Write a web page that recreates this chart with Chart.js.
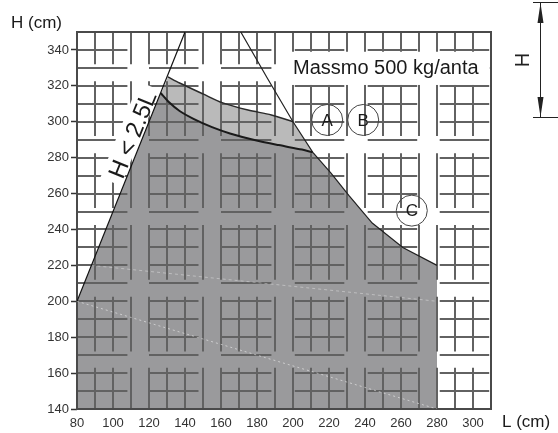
<!DOCTYPE html>
<html>
<head>
<meta charset="utf-8">
<script src="https://cdn.jsdelivr.net/npm/chart.js@4"></script>
<style>
  html, body { margin: 0; padding: 0; background: #fff; }
  #wrap { width: 558px; height: 433px; position: relative; }
</style>
</head>
<body>
<div id="wrap"><canvas id="chart"></canvas></div>
<script>
// axis ticks
const xTicks = [80, 100, 120, 140, 160, 180, 200, 220, 240, 260, 280, 300];
const yTicks = [140, 160, 180, 200, 220, 240, 260, 280, 300, 320, 340];

// outer (light) region: left edge, top curve, right slope, bottom
const outerL = [80, 80, 130.5, 137, 150, 161, 175, 188, 200, 211, 221, 231, 244, 261, 280, 280];
const outerH = [140, 200, 325, 321.6, 315.5, 310.5, 306.5, 303.8, 300, 283, 271.5, 259, 243.6, 230, 220, 140];

// inner (dark) region, bounded above by the lower curve
const innerL = [80, 80, 126.5, 131, 137, 145, 155, 165, 178, 192, 205, 211, 221, 231, 244, 261, 280, 280];
const innerH = [140, 200, 316, 311, 306, 301.5, 297, 293.5, 290, 287, 284.5, 283, 271.5, 259, 243.6, 230, 220, 140];

// thin limit line on the right side
const limitL = [171, 185.6, 200, 211, 221, 231, 244, 261, 280];
const limitH = [350, 324.5, 300, 283, 271.5, 259, 243.6, 230, 220];

// H < 2.5L line
const ratioL = [80, 140];
const ratioH = [200, 350];

// faint white traces inside the grey area
const traceAL = [80, 280];
const traceAH = [200, 140];
const traceBL = [88, 280];
const traceBH = [220, 200];

// circled labels
const markNames = ['A', 'B', 'C'];
const markL = [219, 239, 266];
const markH = [301, 301, 250.5];

// grille background: horizontal bars run inside these L spans,
// vertical bars inside these H spans (one bar every 10 cm)
const barSpansL = [[80, 108], [120, 147.5], [160, 188], [201, 228.5], [241.5, 269], [281.5, 309]];
const barSpansH = [[132, 163], [172, 202.5], [212, 242.5], [252, 282.5], [292, 322.5], [332, 362]];

function pts(ls, hs) {
  return ls.map((l, i) => ({ x: l, y: hs[i] }));
}

const upperCurve = pts(outerL.slice(2, 9), outerH.slice(2, 9));
const lowerCurve = pts(innerL.slice(2, 12), innerH.slice(2, 12));

const FONT = "'Liberation Sans', Arial, sans-serif";
const NOTE = 'Massmo 500 kg/anta';
const RATIO = 'H < 2.5L';

const grille = {
  id: 'grille',
  beforeDatasetsDraw(chart) {
    const ctx = chart.ctx;
    const xs = chart.scales.x, ys = chart.scales.y;
    const a = chart.chartArea;
    ctx.save();
    ctx.beginPath();
    ctx.rect(a.left, a.top, a.right - a.left, a.bottom - a.top);
    ctx.clip();
    ctx.strokeStyle = '#626262';
    ctx.lineWidth = 2;
    ctx.beginPath();
    for (let h = 140; h <= 350; h += 10) {
      const y = Math.round(ys.getPixelForValue(h));
      barSpansL.forEach(s => {
        ctx.moveTo(xs.getPixelForValue(s[0]), y);
        ctx.lineTo(xs.getPixelForValue(s[1]), y);
      });
    }
    for (let l = 80; l <= 310; l += 10) {
      const x = Math.round(xs.getPixelForValue(l));
      barSpansH.forEach(s => {
        ctx.moveTo(x, ys.getPixelForValue(s[0]));
        ctx.lineTo(x, ys.getPixelForValue(s[1]));
      });
    }
    ctx.stroke();

    // clear space behind the note
    ctx.fillStyle = '#fff';
    const nx = xs.getPixelForValue(199);
    ctx.fillRect(nx, ys.getPixelForValue(339) , a.right - 2 - nx,
      ys.getPixelForValue(320.5) - ys.getPixelForValue(339));

    // clear space behind the rotated ratio text
    ctx.save();
    ctx.translate(xs.getPixelForValue(111.5), ys.getPixelForValue(292.5));
    ctx.rotate(-68 * Math.PI / 180);
    ctx.font = '24px ' + FONT;
    const w = ctx.measureText(RATIO).width;
    ctx.fillRect(-w / 2 - 6, -15, w + 12, 22);
    ctx.restore();
    ctx.restore();

    // frame
    ctx.save();
    ctx.strokeStyle = '#4a4a4a';
    ctx.lineWidth = 2;
    ctx.strokeRect(a.left, a.top, a.right - a.left, a.bottom - a.top);
    ctx.restore();
  }
};

const extras = {
  id: 'extras',
  afterDraw(chart) {
    const ctx = chart.ctx;
    const xs = chart.scales.x, ys = chart.scales.y;
    ctx.save();
    ctx.fillStyle = '#1a1a1a';
    ctx.textBaseline = 'middle';

    // axis titles
    ctx.font = '17px ' + FONT;
    ctx.textAlign = 'left';
    ctx.fillText('H (cm)', 11, 23);
    ctx.fillText('L (cm)', 502, 422);

    // note
    ctx.font = '20px ' + FONT;
    ctx.fillText(NOTE, xs.getPixelForValue(200), ys.getPixelForValue(330) + 1);

    // circle letters
    ctx.font = '17px ' + FONT;
    ctx.textAlign = 'center';
    markNames.forEach((n, i) => {
      ctx.fillText(n, xs.getPixelForValue(markL[i]), ys.getPixelForValue(markH[i]) + 1);
    });

    // rotated H < 2.5L
    ctx.save();
    ctx.translate(xs.getPixelForValue(111.5), ys.getPixelForValue(292.5));
    ctx.rotate(-68 * Math.PI / 180);
    ctx.font = '24px ' + FONT;
    ctx.fillText(RATIO, 0, 0);
    ctx.restore();

    // H dimension at top right
    ctx.strokeStyle = '#222';
    ctx.lineWidth = 1;
    ctx.beginPath();
    ctx.moveTo(533, 2.5); ctx.lineTo(558, 2.5);
    ctx.moveTo(533, 117.5); ctx.lineTo(558, 117.5);
    ctx.moveTo(540.5, 3); ctx.lineTo(540.5, 117);
    ctx.stroke();
    ctx.fillStyle = '#222';
    ctx.beginPath();
    ctx.moveTo(540.5, 3); ctx.lineTo(537.5, 23); ctx.lineTo(543.5, 23); ctx.closePath();
    ctx.moveTo(540.5, 117); ctx.lineTo(537.5, 97); ctx.lineTo(543.5, 97); ctx.closePath();
    ctx.fill();
    ctx.save();
    ctx.translate(523, 60);
    ctx.rotate(-Math.PI / 2);
    ctx.font = '20px ' + FONT;
    ctx.textAlign = 'center';
    ctx.fillText('H', 0, 0);
    ctx.restore();

    ctx.restore();
  }
};

new Chart(document.getElementById('chart'), {
  type: 'scatter',
  data: {
    datasets: [
      {
        // circles
        data: pts(markL, markH),
        showLine: false,
        pointRadius: 15.5,
        pointHoverRadius: 15.5,
        pointBackgroundColor: 'rgba(255,255,255,0)',
        pointBorderColor: '#444',
        pointBorderWidth: 1
      },
      {
        data: pts(ratioL, ratioH),
        showLine: true,
        borderColor: '#111',
        borderWidth: 1.2,
        pointRadius: 0
      },
      {
        data: pts(limitL, limitH),
        showLine: true,
        borderColor: '#222',
        borderWidth: 1.2,
        pointRadius: 0
      },
      {
        data: lowerCurve,
        showLine: true,
        borderColor: '#1a1a1a',
        borderWidth: 2,
        tension: 0.3,
        pointRadius: 0
      },
      {
        data: upperCurve,
        showLine: true,
        borderColor: '#2a2a2a',
        borderWidth: 1.5,
        tension: 0.3,
        pointRadius: 0
      },
      {
        data: pts(traceAL, traceAH),
        showLine: true,
        borderColor: 'rgba(255,255,255,0.5)',
        borderWidth: 1,
        borderDash: [2, 3],
        pointRadius: 0
      },
      {
        data: pts(traceBL, traceBH),
        showLine: true,
        borderColor: 'rgba(255,255,255,0.35)',
        borderWidth: 1,
        borderDash: [3, 3],
        pointRadius: 0
      },
      {
        // dark part
        data: pts(innerL, innerH),
        showLine: true,
        borderWidth: 0,
        borderColor: 'rgba(0,0,0,0)',
        backgroundColor: '#9a9a9c',
        fill: 'shape',
        pointRadius: 0
      },
      {
        // light part
        data: pts(outerL, outerH),
        showLine: true,
        borderWidth: 0,
        borderColor: 'rgba(0,0,0,0)',
        backgroundColor: '#bababa',
        fill: 'shape',
        pointRadius: 0
      }
    ]
  },
  options: {
    responsive: true,
    maintainAspectRatio: false,
    animation: false,
    events: [],
    layout: { padding: { left: 0, top: 32, right: 67, bottom: 0 } },
    plugins: {
      legend: { display: false },
      tooltip: { enabled: false },
      filler: { drawTime: 'beforeDraw' }
    },
    scales: {
      x: {
        type: 'linear',
        min: 80,
        max: 310,
        afterFit: function(scale) { scale.height = 24; },
        border: { display: false },
        grid: {
          drawOnChartArea: false,
          drawTicks: false
        },
        ticks: {
          stepSize: 10,
          autoSkip: false,
          maxRotation: 0,
          padding: 7,
          color: '#333',
          font: { family: FONT, size: 13 },
          callback: function(value) {
            return xTicks.includes(value) ? value : '';
          }
        }
      },
      y: {
        type: 'linear',
        min: 140,
        max: 350,
        afterFit: function(scale) { scale.width = 77; },
        border: { display: false },
        grid: {
          drawOnChartArea: false,
          tickLength: 6,
          tickWidth: 1.5,
          tickColor: function(c) {
            return c.tick && yTicks.includes(c.tick.value) ? '#333' : 'rgba(0,0,0,0)';
          }
        },
        ticks: {
          stepSize: 10,
          autoSkip: false,
          padding: 2,
          color: '#333',
          font: { family: FONT, size: 13 },
          callback: function(value) {
            return yTicks.includes(value) ? value : '';
          }
        }
      }
    }
  },
  plugins: [grille, extras]
});
</script>
</body>
</html>
